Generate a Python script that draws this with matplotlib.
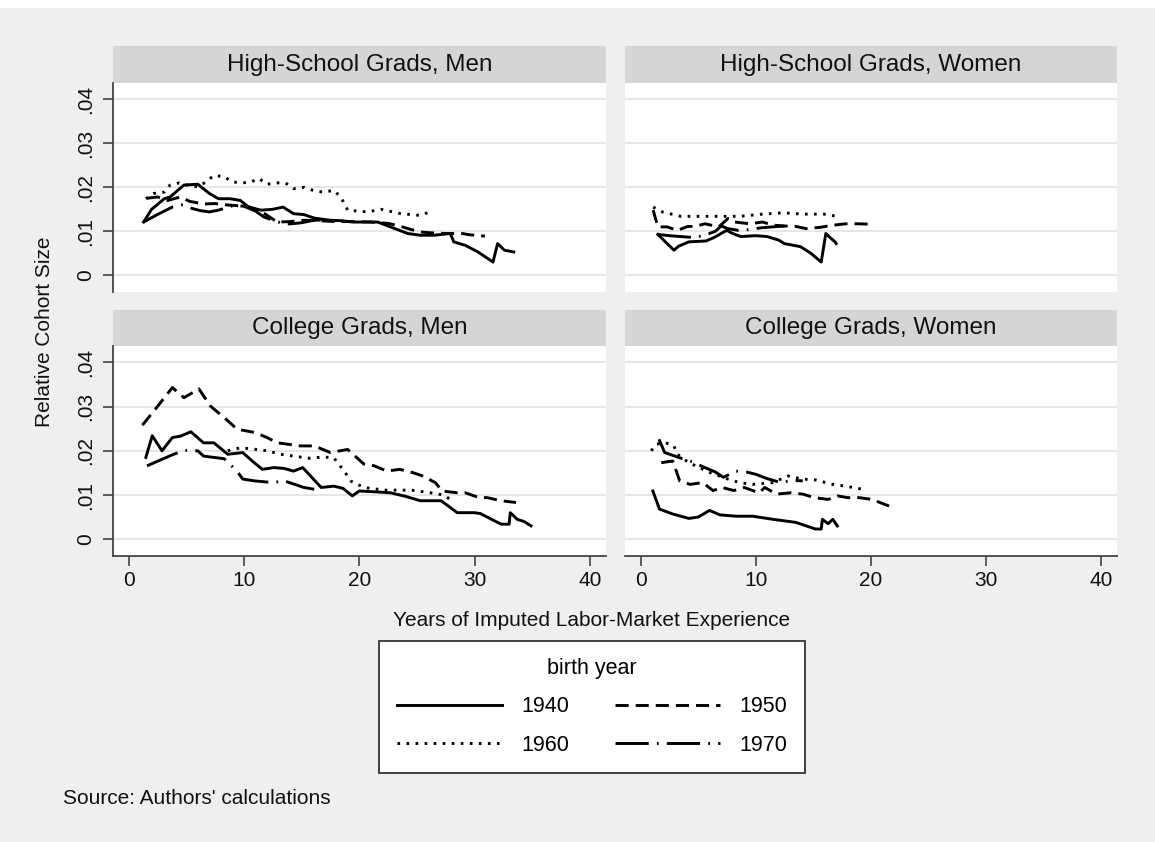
import matplotlib
matplotlib.use('Agg')
import matplotlib.pyplot as plt
from matplotlib.lines import Line2D
from matplotlib.patches import Rectangle

plt.rcParams['font.family'] = ['Liberation Sans', 'DejaVu Sans']

# ---- data (x = years of experience, y = relative cohort size)
hs_men_1940_x = [1.3, 2.0, 3.1, 3.6, 4.8, 6.0, 7.0, 7.8, 8.8, 9.7, 10.4, 11.5, 12.5, 13.4, 14.3, 15.2, 16.1,
                 17.5, 18.5, 19.5, 21.6, 22.7, 24.2, 25.3, 26.5, 27.9, 28.2, 29.2, 30.3, 31.6, 32.0, 32.6, 33.4]
hs_men_1940_y = [.0121, .0150, .0174, .0178, .0205, .0207, .0186, .0174, .0174, .0170, .0155, .0148, .0150,
                 .0155, .0140, .0138, .0130, .0125, .0124, .0121, .0121, .0110, .0095, .0091, .0091, .0095,
                 .0076, .0068, .0053, .0030, .0072, .0057, .0053]
hs_men_1950_x = [1.6, 2.5, 3.4, 4.5, 5.3, 6.5, 7.5, 8.5, 9.5, 10.5, 11.5, 12.9, 14.0, 15.2, 16.5, 18.0,
                 19.5, 21.0, 22.5, 23.5, 24.5, 25.5, 26.5, 27.5, 28.9, 29.6, 30.9]
hs_men_1950_y = [.0175, .0178, .0170, .0178, .0168, .0162, .0163, .0160, .0158, .0155, .0145, .0121, .0122,
                 .0125, .0124, .0122, .0122, .0121, .0118, .0112, .0104, .0098, .0096, .0095, .0095, .0092, .0089]
hs_men_1960_x = [1.5, 2.2, 3.1, 3.6, 4.4, 5.1, 6.0, 6.7, 7.4, 8.3, 9.0, 9.9, 10.6, 11.3, 12.0, 12.9, 13.6,
                 14.3, 15.2, 16.1, 16.9, 17.8, 18.4, 19.0, 20.7, 21.9, 23.6, 25.3, 26.1]
hs_men_1960_y = [.0174, .0186, .0189, .0205, .0210, .0205, .0201, .0212, .0227, .0224, .0212, .0210, .0212,
                 .0220, .0207, .0210, .0210, .0197, .0200, .0192, .0189, .0193, .0178, .0148, .0144, .0150,
                 .0140, .0136, .0144]
hs_men_1970_x = [1.3, 2.5, 3.8, 4.6, 5.5, 6.2, 7.0, 7.8, 9.0, 10.0, 11.0, 11.7, 12.5, 13.6, 14.9, 16.1, 17.0]
hs_men_1970_y = [.0121, .0138, .0155, .0160, .0152, .0147, .0144, .0148, .0158, .0157, .0146, .0133, .0125,
                 .0116, .0119, .0125, .0126]

hs_women_1940_x = [1.5, 2.0, 2.9, 3.3, 4.2, 5.0, 5.7, 6.4, 7.0, 7.5, 8.0, 8.7, 10.0, 11.0, 12.0, 12.5, 13.9,
                   14.8, 15.7, 16.1, 16.5, 16.9, 17.0]
hs_women_1940_y = [.0093, .0080, .0057, .0066, .0076, .0077, .0078, .0086, .0095, .0102, .0095, .0088, .0090,
                   .0088, .0080, .0072, .0065, .0050, .0030, .0095, .0085, .0076, .0072]
hs_women_1950_x = [1.1, 1.5, 2.3, 3.2, 4.1, 4.7, 5.6, 6.8, 7.6, 8.2, 9.5, 10.6, 11.5, 12.5, 13.5, 14.4, 15.6,
                   16.8, 17.8, 18.9, 20.3]
hs_women_1950_y = [.0148, .0110, .0110, .0102, .0111, .0111, .0117, .0110, .0129, .0121, .0117, .0121, .0114,
                   .0112, .0111, .0106, .0109, .0114, .0117, .0117, .0116]
hs_women_1960_x = [1.1, 1.9, 2.7, 3.5, 5.1, 6.7, 8.6, 10.6, 12.4, 14.1, 15.9, 17.3]
hs_women_1960_y = [.0155, .0144, .0139, .0134, .0134, .0134, .0134, .0139, .0142, .0139, .0139, .0133]
hs_women_1970_x = [1.5, 2.5, 3.5, 4.5, 5.5, 6.5, 7.0, 7.6, 8.5, 9.5, 10.5, 11.5, 12.5]
hs_women_1970_y = [.0093, .0090, .0088, .0086, .0090, .0100, .0112, .0106, .0102, .0104, .0108, .0110, .0112]

col_men_1940_x = [1.5, 2.05, 2.9, 3.8, 4.5, 5.4, 6.5, 7.4, 8.6, 9.9, 10.8, 11.6, 12.6, 13.5, 14.3, 15.1,
                  16.7, 17.8, 18.6, 19.4, 20.0, 21.5, 22.7, 24.0, 25.3, 27.1, 28.5, 30.0, 30.5, 32.3, 33.0,
                  33.1, 33.7, 34.3, 34.9]
col_men_1940_y = [.0185, .0234, .0200, .0230, .0233, .0243, .0218, .0218, .0192, .0196, .0175, .0158, .0162,
                  .0160, .0154, .0162, .0117, .0120, .0115, .0098, .0109, .0107, .0105, .0097, .0087, .0087,
                  .0060, .0060, .0058, .0034, .0034, .0060, .0045, .0040, .0030]
col_men_1950_x = [1.2, 2.5, 3.8, 4.8, 6.1, 7.1, 8.3, 9.4, 11.0, 12.0, 12.9, 14.9, 16.1, 17.5, 19.0, 20.4,
                  21.3, 22.4, 23.5, 24.6, 25.5, 26.6, 27.2, 28.5, 29.2, 30.4, 31.1, 32.3, 33.6]
col_men_1950_y = [.0258, .0300, .0343, .0320, .0340, .0301, .0275, .0249, .0241, .0230, .0218, .0211, .0211,
                  .0196, .0203, .0170, .0166, .0154, .0158, .0151, .0143, .0128, .0109, .0105, .0105, .0094,
                  .0094, .0087, .0083]
col_men_1960_x = [8.6, 9.7, 10.8, 12.0, 13.2, 14.3, 15.7, 16.9, 17.8, 18.7, 19.3, 19.8, 20.4, 22.2, 24.5,
                  26.2, 27.3, 27.9]
col_men_1960_y = [.0200, .0207, .0204, .0200, .0192, .0188, .0183, .0186, .0184, .0154, .0131, .0125, .0117,
                  .0111, .0111, .0105, .0100, .0090]
col_men_1970_x = [1.6, 3.9, 4.9, 6.0, 6.5, 8.3, 9.4, 9.9, 10.9, 12.5, 13.5, 15.2, 16.1]
col_men_1970_y = [.0166, .0192, .0201, .0200, .0188, .0182, .0154, .0136, .0132, .0128, .0132, .0117, .0113]

col_women_1940_x = [1.07, 1.65, 2.8, 4.2, 5.0, 6.0, 6.9, 8.3, 9.75, 11.5, 13.5, 15.2, 15.7, 15.8, 16.3,
                    16.7, 17.1]
col_women_1940_y = [.0109, .0068, .0057, .0047, .0050, .0065, .0055, .0052, .0052, .0045, .0038, .0023,
                    .0023, .0045, .0035, .0045, .0030]
col_women_1950_x = [1.8, 2.8, 3.4, 4.3, 5.4, 6.3, 7.1, 8.1, 9.0, 10.3, 10.8, 11.8, 13.1, 14.1, 15.1, 16.3,
                    17.1, 18.0, 19.0, 20.1, 21.2, 21.9]
col_women_1950_y = [.0173, .0177, .0132, .0124, .0128, .0110, .0117, .0110, .0117, .0105, .0117, .0102,
                    .0105, .0102, .0094, .0090, .0098, .0094, .0094, .0090, .0079, .0072]
col_women_1960_x = [0.93, 1.36, 2.2, 2.9, 3.2, 4.0, 4.7, 6.0, 7.6, 8.6, 9.75, 11.5, 12.8, 14.1, 15.2, 16.7,
                    17.8, 19.3]
col_women_1960_y = [.0200, .0215, .0218, .0211, .0192, .0177, .0167, .0151, .0136, .0128, .0124, .0128,
                    .0143, .0136, .0134, .0124, .0120, .0113]
col_women_1970_x = [1.6, 2.1, 3.3, 4.5, 5.5, 6.5, 7.2, 8.3, 9.2, 10.0, 11.0, 12.2, 13.1, 14.1]
col_women_1970_y = [.0226, .0196, .0185, .0175, .0163, .0152, .0140, .0154, .0152, .0147, .0137, .0128,
                    .0133, .0132]

panel_titles = ["High-School Grads, Men", "High-School Grads, Women",
                "College Grads, Men", "College Grads, Women"]
birth_years = ["1940", "1950", "1960", "1970"]
y_ticks = [0, .01, .02, .03, .04]
y_tick_labels = ["0", ".01", ".02", ".03", ".04"]
x_ticks = [0, 10, 20, 30, 40]

panels = [
    [(hs_men_1940_x, hs_men_1940_y), (hs_men_1950_x, hs_men_1950_y),
     (hs_men_1960_x, hs_men_1960_y), (hs_men_1970_x, hs_men_1970_y)],
    [(hs_women_1940_x, hs_women_1940_y), (hs_women_1950_x, hs_women_1950_y),
     (hs_women_1960_x, hs_women_1960_y), (hs_women_1970_x, hs_women_1970_y)],
    [(col_men_1940_x, col_men_1940_y), (col_men_1950_x, col_men_1950_y),
     (col_men_1960_x, col_men_1960_y), (col_men_1970_x, col_men_1970_y)],
    [(col_women_1940_x, col_women_1940_y), (col_women_1950_x, col_women_1950_y),
     (col_women_1960_x, col_women_1960_y), (col_women_1970_x, col_women_1970_y)],
]

LW = 2.1
styles = ['-', (0, (4.5, 2.4)), (0, (0.9, 2.2)), (0, (11.4, 2.8, 0.6, 2.8))]
BG = '#efefef'
STRIP = '#d5d5d5'
GRID = '#e4e4e4'
AX = '#444444'
TXT = '#111111'

W, H = 1155, 842


def box(x0, y0, x1, y1):
    """pixel box (top-left origin) -> figure fraction rect"""
    return [x0 / W, 1 - y1 / H, (x1 - x0) / W, (y1 - y0) / H]


fig = plt.figure(figsize=(W / 100, H / 100), dpi=100, facecolor=BG)
# white margin at the very top of the image
fig.patches.append(Rectangle((0, 1 - 8 / H), 1, 8 / H, transform=fig.transFigure,
                             facecolor='white', edgecolor='none'))

cols = [(113, 606), (625, 1117)]
rows = [(46, 83, 292), (310, 346, 556)]

for i, title in enumerate(panel_titles):
    r, c = divmod(i, 2)
    x0, x1 = cols[c]
    s0, p0, p1 = rows[r]

    st = fig.add_axes(box(x0, s0, x1, p0))
    st.set_facecolor(STRIP)
    st.set_xticks([])
    st.set_yticks([])
    for sp in st.spines.values():
        sp.set_visible(False)
    st.text(0.5, 0.5, title, ha='center', va='center', fontsize=17.5, color=TXT,
            transform=st.transAxes)

    ax = fig.add_axes(box(x0, p0, x1, p1))
    ax.set_facecolor('white')
    ax.set_xlim(-1.35, 41.4)
    ax.set_ylim(-0.0038, 0.0437)
    for y in y_ticks:
        ax.axhline(y, color=GRID, lw=1.3, zorder=0)
    for (xs, ys), ls in zip(panels[i], styles):
        ax.plot(xs, ys, color='black', lw=LW, linestyle=ls, zorder=3)

    for side in ['top', 'right']:
        ax.spines[side].set_visible(False)
    ax.spines['left'].set_color(AX)
    ax.spines['left'].set_linewidth(1.3)
    ax.spines['bottom'].set_color(AX)
    ax.spines['bottom'].set_linewidth(1.3)

    if c == 0:
        ax.set_yticks(y_ticks)
        ax.set_yticklabels(y_tick_labels, rotation=90, va='center')
        ax.tick_params(axis='y', length=7, width=1.2, color=AX, pad=6, labelsize=15,
                       labelcolor=TXT)
    else:
        ax.spines['left'].set_visible(False)
        ax.set_yticks([])
    if r == 1:
        ax.set_xticks(x_ticks)
        ax.tick_params(axis='x', length=7, width=1.2, color=AX, pad=4, labelsize=15,
                       labelcolor=TXT)
    else:
        ax.spines['bottom'].set_visible(False)
        ax.set_xticks([])

fig.text(45 / W, 1 - 332 / H, "Relative Cohort Size", rotation=90, ha='center', va='center',
         fontsize=15, color=TXT)
fig.text(592 / W, 1 - 621 / H, "Years of Imputed Labor-Market Experience", ha='center',
         va='center', fontsize=15, color=TXT)
fig.text(63 / W, 1 - 799 / H, "Source: Authors' calculations", ha='left', va='center',
         fontsize=15, color=TXT)

# legend fills column by column: order so rows read 1940 1950 / 1960 1970
order = [0, 2, 1, 3]
handles = [Line2D([], [], color='black', lw=LW, linestyle=styles[k]) for k in order]
labels = [birth_years[k] for k in order]
leg = fig.legend(handles, labels, loc='center', bbox_to_anchor=(592 / W, 1 - 707 / H),
                 ncol=2, title="birth year", fontsize=15.5, title_fontsize=15.5,
                 handlelength=4.9, handletextpad=0.9, columnspacing=2.1, labelspacing=0.8,
                 borderpad=0.8, frameon=True, fancybox=False, shadow=False)
frame = leg.get_frame()
frame.set_edgecolor('#333333')
frame.set_linewidth(1.3)
frame.set_facecolor('white')
frame.set_alpha(1)

fig.savefig('out.png', dpi=100, facecolor=fig.get_facecolor())
